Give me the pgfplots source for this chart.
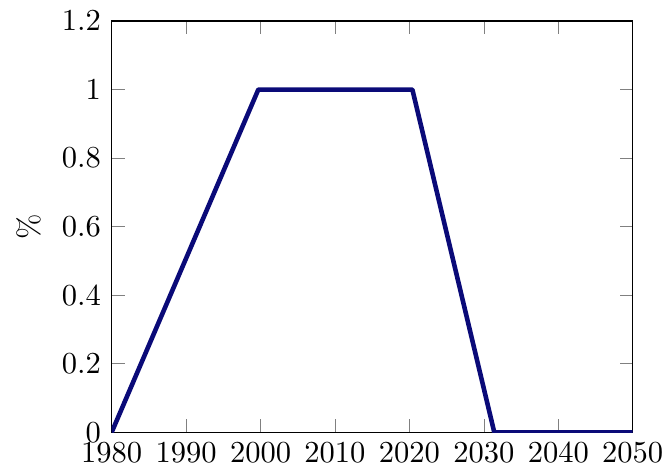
\documentclass[border=0pt]{standalone}
\usepackage{pgfplots}
\pgfplotsset{compat=1.18}
\begin{document}
\begin{tikzpicture}
\begin{axis}[
  scale only axis,
  width=170.8pt, height=134.8pt,
  xmin=1980, xmax=2050,
  ymin=0, ymax=1.2,
  xtick={1980,1990,2000,2010,2020,2030,2040,2050},
  ytick={0,0.2,0.4,0.6,0.8,1,1.2},
  x tick label style={/pgf/number format/1000 sep={}},
  ylabel={\%},
]
\addplot[color={rgb,255:red,10;green,10;blue,120}, line width=1.5pt, line join=round] coordinates {
(1980,0) (1999.7,1) (2020.4,1) (2031.4,0) (2050,0)
};
\end{axis}
\pgfresetboundingbox
\path ([xshift=-36.6pt,yshift=-12.8pt]current axis.south west) rectangle ([xshift=10.9pt,yshift=6.9pt]current axis.north east);
\end{tikzpicture}
\end{document}
